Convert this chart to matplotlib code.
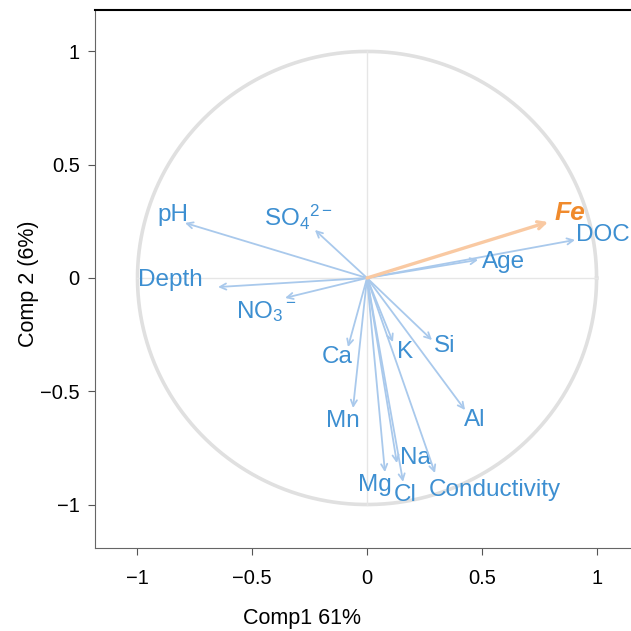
import numpy as np
import matplotlib.pyplot as plt

plt.rcParams['font.family'] = ['Liberation Sans', 'DejaVu Sans']
plt.rcParams['mathtext.fontset'] = 'custom'
plt.rcParams['mathtext.rm'] = 'Liberation Sans'
plt.rcParams['mathtext.it'] = 'Liberation Sans:italic'

# loadings (Comp1, Comp2)
variables = ['pH', 'SO4', 'Depth', 'NO3', 'DOC', 'Age', 'Ca', 'Mn', 'K', 'Si',
             'Al', 'Mg', 'Cl', 'Na', 'Conductivity']
comp1 = [-0.793, -0.227, -0.649, -0.357, 0.906, 0.484, -0.083, -0.061, 0.113, 0.283,
         0.427, 0.078, 0.157, 0.130, 0.296]
comp2 = [0.243, 0.212, -0.040, -0.088, 0.168, 0.080, -0.305, -0.574, -0.283, -0.274,
         -0.583, -0.857, -0.900, -0.817, -0.861]
fe_load = (0.789, 0.247)

labels = {'pH': 'pH', 'SO4': r'SO$_4$$^{2-}$', 'Depth': 'Depth', 'NO3': r'NO$_3$$^-$',
          'DOC': 'DOC', 'Age': 'Age', 'Ca': 'Ca', 'Mn': 'Mn', 'K': 'K', 'Si': 'Si',
          'Al': 'Al', 'Mg': 'Mg', 'Cl': 'Cl', 'Na': 'Na', 'Conductivity': 'Conductivity'}
# where the names sit
lab_pos = {'pH': (-0.845, 0.278), 'SO4': (-0.30, 0.269), 'Depth': (-0.858, -0.009),
           'NO3': (-0.44, -0.148), 'DOC': (1.028, 0.19), 'Age': (0.593, 0.071),
           'Ca': (-0.131, -0.349), 'Mn': (-0.105, -0.631), 'K': (0.166, -0.327),
           'Si': (0.34, -0.30), 'Al': (0.471, -0.627), 'Mg': (0.035, -0.914),
           'Cl': (0.166, -0.958), 'Na': (0.209, -0.795), 'Conductivity': (0.558, -0.936)}

blue_arrow = '#a9c9ec'
blue_text = '#3d8fd1'

fig = plt.figure(figsize=(6.31, 6.31), dpi=100)
ax = fig.add_axes([0.1506, 0.1315, 0.8494, 0.8534])

t = np.linspace(0, 2 * np.pi, 400)
ax.plot(np.cos(t), np.sin(t), color='#e0e0e0', lw=2.6, zorder=1)
ax.plot([-1, 1], [0, 0], color='#e6e6e6', lw=1, zorder=1)
ax.plot([0, 0], [-1, 1], color='#e6e6e6', lw=1, zorder=1)

for v, x, y in zip(variables, comp1, comp2):
    ax.annotate('', xy=(x, y), xytext=(0, 0),
                arrowprops=dict(arrowstyle='->', color=blue_arrow, lw=1.3,
                                mutation_scale=11, shrinkA=0, shrinkB=0))
    lx, ly = lab_pos[v]
    ax.text(lx, ly, labels[v], color=blue_text, fontsize=17.5,
            ha='center', va='center', zorder=3)

ax.annotate('', xy=fe_load, xytext=(0, 0),
            arrowprops=dict(arrowstyle='->', color='#f9c9a2', lw=2.4,
                            mutation_scale=13, shrinkA=0, shrinkB=0))
ax.text(0.885, 0.287, 'Fe', color='#f08a2c', fontsize=19, fontweight='bold',
        fontstyle='italic', ha='center', va='center')

ax.set_xlim(-1.185, 1.15)
ax.set_ylim(-1.192, 1.185)
ax.set_xticks([-1, -0.5, 0, 0.5, 1])
ax.set_yticks([-1, -0.5, 0, 0.5, 1])
ax.set_xticklabels(['\u22121', '\u22120.5', '0', '0.5', '1'])
ax.set_yticklabels(['\u22121', '\u22120.5', '0', '0.5', '1'])
ax.tick_params(labelsize=14.5, length=5, color='#555555')
ax.tick_params(axis='y', pad=6)
ax.tick_params(axis='x', pad=10)
ax.spines['right'].set_visible(False)
ax.spines['left'].set_color('#666666')
ax.spines['bottom'].set_color('#666666')
ax.spines['top'].set_color('black')
ax.spines['top'].set_linewidth(1.5)

ax.set_xlabel('Comp1 61%', fontsize=15.5)
ax.set_ylabel('Comp 2 (6%)', fontsize=15.5)
ax.xaxis.set_label_coords(0.386, -0.112)
ax.yaxis.set_label_coords(-0.105, 0.49)

plt.savefig('out.png', dpi=100)
